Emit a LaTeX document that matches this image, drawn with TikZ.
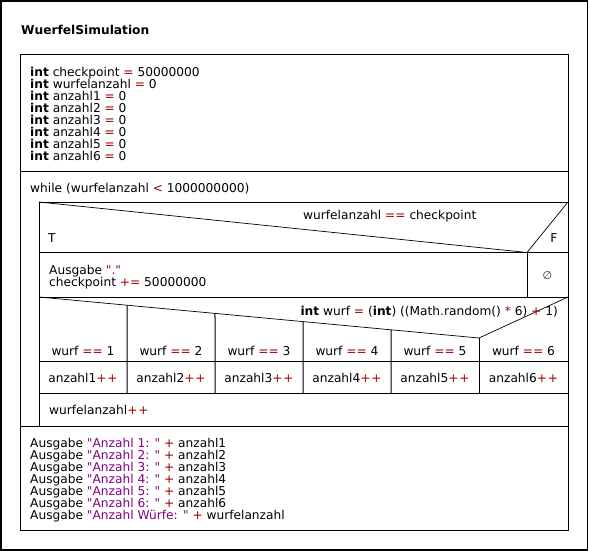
\documentclass[tikz,border=0pt]{standalone}
\usepackage{fontspec}
\usetikzlibrary{calc}
\setmainfont{DejaVu Sans}[Ligatures=TeXOff]
\definecolor{opred}{RGB}{155,0,0}
\definecolor{strpurple}{RGB}{128,0,128}
\newcommand\opc[1]{\textcolor{opred}{#1}}
\newcommand\strc[1]{\textcolor{strpurple}{#1}}
\begin{document}
\begin{tikzpicture}[x=1pt,y=-1pt,
  txt/.style={inner sep=0pt, anchor=base west, font=\fontsize{12.2}{12}\selectfont},
  ctxt/.style={inner sep=0pt, anchor=base, font=\fontsize{12.2}{12}\selectfont},
  box/.style={line width=1pt},
  slant/.style={line width=0.7pt}]
\useasboundingbox (0,0) rectangle (589,551);
\draw[line width=1.6pt] (0.8,0.8) rectangle (587.6,549.9);
% title
\node[txt] (title) at (21,35) {\textbf{WuerfelSimulation}};
% main box
\coordinate (mtl) at (20,55);
\coordinate (mbr) at (568,530);
\draw[box] (mtl) rectangle (mbr);
\draw[box] (20,171) -- (568,171);
\draw[box] (20,426) -- (568,426);
% declarations
\node[txt] (d1) at (30,76.3) {\textbf{int} checkpoint \opc{=} 50000000};
\node[txt] (d2) at (30,88.3) {\textbf{int} wurfelanzahl \opc{=} 0};
\node[txt] (d3) at (30,100.3) {\textbf{int} anzahl1 \opc{=} 0};
\node[txt] (d4) at (30,112.3) {\textbf{int} anzahl2 \opc{=} 0};
\node[txt] (d5) at (30,124.3) {\textbf{int} anzahl3 \opc{=} 0};
\node[txt] (d6) at (30,136.3) {\textbf{int} anzahl4 \opc{=} 0};
\node[txt] (d7) at (30,148.3) {\textbf{int} anzahl5 \opc{=} 0};
\node[txt] (d8) at (30,160.3) {\textbf{int} anzahl6 \opc{=} 0};
% while
\node[txt] (wh) at (30,192.7) {while (wurfelanzahl \opc{<} 1000000000)};
\draw[box] (39,202) rectangle (568,426);
% if block
\coordinate (ifl) at (39,202);
\coordinate (ifv) at (527,252.5);
\coordinate (ifr) at (568,202);
\draw[slant] (ifl) -- (ifv) -- (ifr);
\draw[box] (39,252.5) -- (568,252.5);
\draw[box] (39,297) -- (568,297);
\draw[box] (ifv) -- (527,297);
\node[txt] (cond) at (303,219.3) {wurfelanzahl \opc{==} checkpoint};
\node[txt] (tl) at (48,242.7) {T};
\node[ctxt] (fl) at (554,242.7) {F};
\node[txt] (t1) at (49,274.3) {Ausgabe \strc{"."}};
\node[txt] (t2) at (49,286.3) {checkpoint \opc{+=} 50000000};
\node[inner sep=0pt, text=black!80, font=\fontsize{11}{11}\selectfont] (empty) at (547.5,276) {∅};
% switch block
\coordinate (s0) at (39,297);
\coordinate (s6) at (479,338);
\coordinate (sr) at (568,297);
\draw[slant] (s0) -- (s6) -- (sr);
\node[inner sep=0pt, anchor=base east, font=\fontsize{12.2}{12}\selectfont] (sw) at (558,315) {\textbf{int} wurf \opc{=} (\textbf{int}) ((Math\opc{.}random() \opc{*} 6) \opc{+} 1)};
\draw[box] (39,361) -- (568,361);
\draw[box] (39,393) -- (568,393);
\foreach \t/\x in {0.2/127,0.4/215,0.6/303,0.8/391} {
  \draw[box] ($(s0)!\t!(s6)$) -- (\x,393);
}
\draw[box] (s6) -- (479,393);
\foreach \i/\cx in {1/83,2/171,3/259,4/347,5/435,6/523.5} {
  \node[ctxt] (c\i) at (\cx,355.7) {wurf \opc{==} \i};
  \node[ctxt] (a\i) at (\cx,382.3) {anzahl\i\opc{+\kern0.8pt+}};
}
\node[txt] (inc) at (49,414.3) {wurfelanzahl\opc{+\kern0.8pt+}};
% output
\node[txt] (o1) at (30,447.3) {Ausgabe \strc{"Anzahl 1: "} \opc{+} anzahl1};
\node[txt] (o2) at (30,459.3) {Ausgabe \strc{"Anzahl 2: "} \opc{+} anzahl2};
\node[txt] (o3) at (30,471.3) {Ausgabe \strc{"Anzahl 3: "} \opc{+} anzahl3};
\node[txt] (o4) at (30,483.3) {Ausgabe \strc{"Anzahl 4: "} \opc{+} anzahl4};
\node[txt] (o5) at (30,495.3) {Ausgabe \strc{"Anzahl 5: "} \opc{+} anzahl5};
\node[txt] (o6) at (30,507.3) {Ausgabe \strc{"Anzahl 6: "} \opc{+} anzahl6};
\node[txt] (o7) at (30,519.3) {Ausgabe \strc{"Anzahl Würfe: "} \opc{+} wurfelanzahl};
\end{tikzpicture}
\end{document}
